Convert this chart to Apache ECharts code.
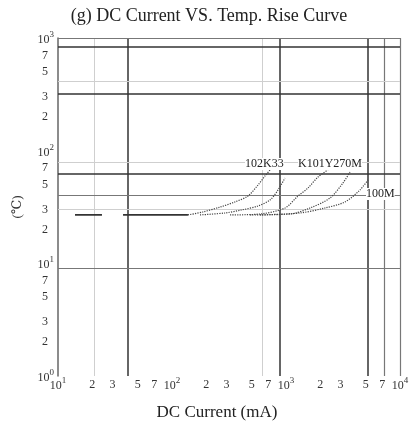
<!DOCTYPE html>
<html><head><meta charset="utf-8">
<script src="https://cdn.jsdelivr.net/npm/echarts@6/dist/echarts.min.js"></script>
<style>html,body{margin:0;padding:0;background:#fff}#c{width:418px;height:426px}</style>
</head><body><div id="c"></div>
<script>
const titleText = '(g) DC Current VS. Temp. Rise Curve';
const xName = 'DC Current (mA)';
const yName = '(℃)';
const xMinorTicks = [20, 30, 50, 70, 200, 300, 500, 700, 2000, 3000, 5000, 7000];
const yMinorTicks = [2, 3, 5, 7, 20, 30, 50, 70, 200, 300, 500, 700];
const baseA = [[14.1, 26.9], [24.3, 26.9]];
const baseB = [[37.2, 26.9], [138, 26.9]];
const curve1 = [[138, 26.9], [187, 28.6], [264, 31.6], [357, 35.1], [464, 39.6], [568, 49.6], [655, 59.7], [724, 67.5]];
const curve2 = [[176, 26.9], [292, 28.0], [411, 29.8], [568, 32.3], [724, 36.5], [851, 44.8], [980, 57.3]];
const curve3 = [[323, 26.9], [591, 27.4], [980, 31.0], [1248, 38.8], [1560, 46.7], [1910, 58.4], [2336, 67.5]];
const curve4 = [[483, 26.9], [1084, 27.4], [1625, 31.0], [2432, 38.0], [3162, 51.7], [3643, 64.7]];
const curve5 = [[591, 26.9], [1327, 28.0], [2198, 31.0], [3296, 35.1], [4457, 44.8], [5240, 55.0]];
const curveLabels = ['102K33', 'K101Y270M', '100M'];
const vGrid = [[20.7, 'light'], [41, 'dark'], [615, 'light'], [886, 'dark'], [5240, 'dark'], [7240, 'mid'], [10000, 'mid']];
const hGrid = [[1000, 'mid'], [832, 'dark'], [415, 'light'], [318, 'dark'], [79.4, 'light'], [62.1, 'dark'], [40.5, 'mid'], [30.4, 'light'], [9.1, 'mid']];

const FONT = '"Liberation Serif", "DejaVu Serif", serif';
const lineStyles = {
  dark: {color: '#333', width: 1.5, type: 'solid'},
  mid: {color: '#777', width: 1.2, type: 'solid'},
  light: {color: '#cfcfcf', width: 1, type: 'solid'}
};
const decadeLabel = v => '{a|10}{s|' + Math.round(Math.log10(v)) + '}';
const decadeRich = {
  a: {fontFamily: FONT, fontSize: 12, color: '#333', lineHeight: 16, verticalAlign: 'bottom'},
  s: {fontFamily: FONT, fontSize: 9, color: '#333', lineHeight: 16, verticalAlign: 'top'}
};

const chart = echarts.init(document.getElementById('c'), null, {renderer: 'canvas'});

const gridMarks = [];
vGrid.forEach(([v, s]) => gridMarks.push({xAxis: v, lineStyle: lineStyles[s]}));
hGrid.forEach(([v, s]) => gridMarks.push({yAxis: v, lineStyle: lineStyles[s]}));

const firstDigit = v => String(v)[0];
const xMinorMarks = xMinorTicks.map(v => ({xAxis: v, name: firstDigit(v)}));
const yMinorMarks = yMinorTicks.map(v => ({yAxis: v, name: firstDigit(v)}));

const curveStyle = {color: '#444', width: 1.2, type: 'dotted'};
function curveSeries(data) {
  return {type: 'line', data, showSymbol: false, smooth: 0.3, lineStyle: curveStyle, silent: true, z: 3};
}
const minorLabel = d => ({show: true, position: 'start', formatter: p => p.name, fontFamily: FONT, fontSize: 12, color: '#333', distance: d});

chart.setOption({
  animation: false,
  backgroundColor: '#fff',
  title: {
    text: titleText, left: 'center', top: 2,
    textStyle: {fontFamily: FONT, fontSize: 18, fontWeight: 'normal', color: '#222'}
  },
  grid: {left: 58, right: 18, top: 38, bottom: 50},
  xAxis: {
    type: 'log', min: 10, max: 10000, logBase: 10,
    axisLine: {show: false}, axisTick: {show: false}, splitLine: {show: false},
    axisLabel: {formatter: decadeLabel, rich: decadeRich, margin: 0}
  },
  yAxis: {
    type: 'log', min: 1, max: 1000, logBase: 10,
    name: yName, nameLocation: 'middle', nameGap: 34, nameRotate: 90,
    nameTextStyle: {fontFamily: FONT, fontSize: 13, color: '#333'},
    axisLine: {show: true, lineStyle: {color: '#666', width: 1.5}},
    axisTick: {show: false}, splitLine: {show: false},
    axisLabel: {formatter: decadeLabel, rich: decadeRich, margin: 4}
  },
  series: [
    {
      type: 'line', data: baseA, showSymbol: false, silent: true, z: 3,
      lineStyle: {color: '#333', width: 1.6},
      markLine: {silent: true, symbol: 'none', label: {show: false}, data: gridMarks, z: 1}
    },
    {
      type: 'line', data: baseB, showSymbol: false, silent: true, z: 3,
      lineStyle: {color: '#333', width: 1.6},
      markLine: {
        silent: true, symbol: 'none',
        lineStyle: {color: 'rgba(0,0,0,0)', width: 0.1},
        label: minorLabel(3),
        data: xMinorMarks
      }
    },
    {
      type: 'line', data: [], showSymbol: false, silent: true,
      markLine: {
        silent: true, symbol: 'none',
        lineStyle: {color: 'rgba(0,0,0,0)', width: 0.1},
        label: minorLabel(10),
        data: yMinorMarks
      }
    },
    curveSeries(curve1),
    curveSeries(curve2),
    curveSeries(curve3),
    curveSeries(curve4),
    curveSeries(curve5)
  ],
  graphic: [
    {type: 'text', left: 245, top: 158, z: 10, style: {text: curveLabels[0], font: '12px ' + FONT, fill: '#222', backgroundColor: '#fff'}},
    {type: 'text', left: 298, top: 158, z: 10, style: {text: curveLabels[1], font: '12px ' + FONT, fill: '#222', backgroundColor: '#fff'}},
    {type: 'text', left: 366, top: 188, z: 10, style: {text: curveLabels[2], font: '12px ' + FONT, fill: '#222', backgroundColor: '#fff'}},
    {type: 'text', x: 217, y: 413, z: 10, style: {text: xName, font: '17px ' + FONT, fill: '#222', align: 'center', verticalAlign: 'middle'}}
  ]
});
</script></body></html>
